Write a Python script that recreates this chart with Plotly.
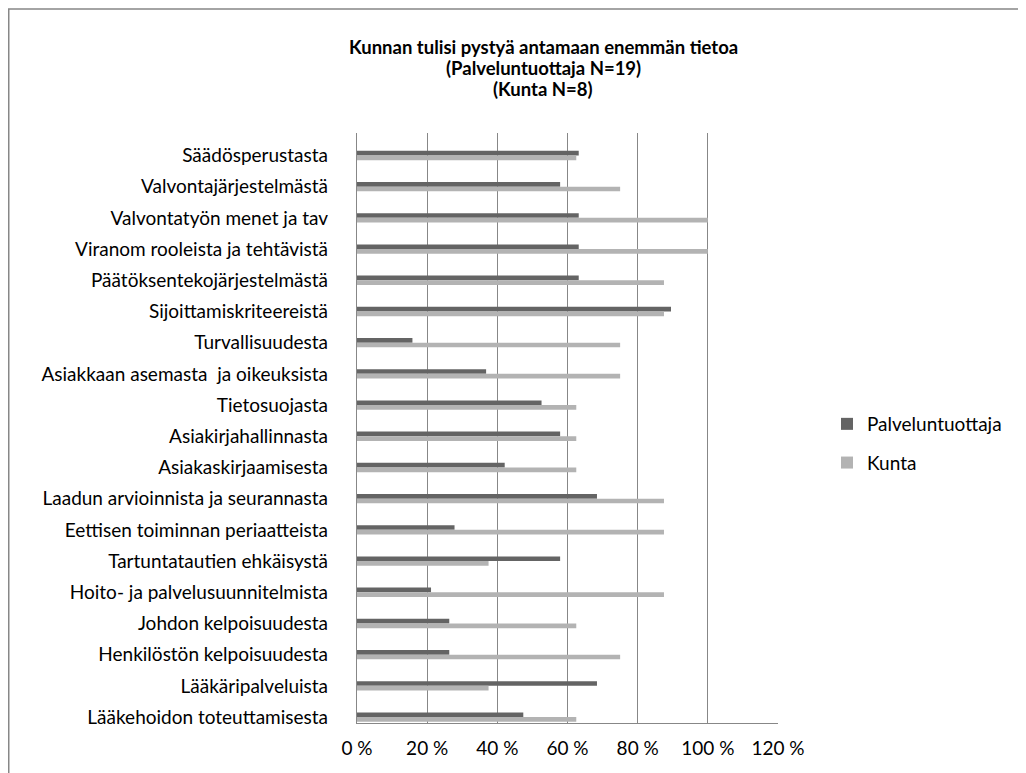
import plotly.graph_objects as go

categories = [
    "Säädösperustasta",
    "Valvontajärjestelmästä",
    "Valvontatyön menet ja tav",
    "Viranom rooleista ja tehtävistä",
    "Päätöksentekojärjestelmästä",
    "Sijoittamiskriteereistä",
    "Turvallisuudesta",
    "Asiakkaan asemasta  ja oikeuksista",
    "Tietosuojasta",
    "Asiakirjahallinnasta",
    "Asiakaskirjaamisesta",
    "Laadun arvioinnista ja seurannasta",
    "Eettisen toiminnan periaatteista",
    "Tartuntatautien ehkäisystä",
    "Hoito- ja palvelusuunnitelmista",
    "Johdon kelpoisuudesta",
    "Henkilöstön kelpoisuudesta",
    "Lääkäripalveluista",
    "Lääkehoidon toteuttamisesta",
]

palveluntuottaja = [63.2, 57.9, 63.2, 63.2, 63.2, 89.5, 15.8, 36.8, 52.6, 57.9,
                    42.1, 68.4, 27.8, 57.9, 21.1, 26.3, 26.3, 68.4, 47.4]
kunta = [62.5, 75.0, 100.0, 100.0, 87.5, 87.5, 75.0, 75.0, 62.5, 62.5,
         62.5, 87.5, 87.5, 37.5, 87.5, 62.5, 75.0, 37.5, 62.5]

x_ticks = [0, 20, 40, 60, 80, 100, 120]
x_ticktext = ["0 %", "20 %", "40 %", "60 %", "80 %", "100 %", "120 %"]

title_lines = ["Kunnan tulisi pystyä antamaan enemmän tietoa",
               "(Palveluntuottaja N=19)",
               "(Kunta N=8)"]

FONT = "Lato"
GRID = "#878787"
FS = 19

fig = go.Figure()
fig.add_trace(go.Bar(
    y=categories, x=palveluntuottaja, orientation="h", name="Palveluntuottaja",
    marker=dict(color="#646464", line=dict(width=0)), legendgroup="a",
))
fig.add_trace(go.Bar(
    y=categories, x=kunta, orientation="h", name="Kunta",
    marker=dict(color="#b3b3b3", line=dict(width=0)), legendgroup="b",
))

# page has an 8px body margin: figure coordinates = screen coordinates - 8
W, H = 1018, 765
L, R, T, B = 349, 770, 125, 715


def px(xp):
    return (xp - L) / (R - L)


def py(yp):
    return (B - yp) / (B - T)


title_y = [39, 60, 81]
annotations = [
    dict(text="<b>%s</b>" % line, xref="paper", yref="paper",
         x=px(535), y=py(yy), xanchor="center", yanchor="middle",
         showarrow=False, font=dict(family=FONT, size=18.5, color="#000000"))
    for line, yy in zip(title_lines, title_y)
]

fig.update_layout(
    width=W, height=H,
    margin=dict(l=L, r=W - R, t=T, b=H - B),
    paper_bgcolor="white", plot_bgcolor="white",
    barmode="group", bargap=0.70, bargroupgap=0,
    font=dict(family=FONT, size=FS, color="#000000"),
    annotations=annotations,
    showlegend=True,
    legend=dict(
        x=px(819), xanchor="left", y=py(397), yanchor="top",
        traceorder="grouped", tracegroupgap=11,
        font=dict(family=FONT, size=FS, color="#000000"),
        bgcolor="rgba(0,0,0,0)",
    ),
    xaxis=dict(
        range=[0, 120], tickvals=x_ticks, ticktext=x_ticktext,
        showgrid=True, gridcolor=GRID, gridwidth=1.3,
        showline=True, linecolor=GRID, linewidth=1.3,
        zeroline=False, ticks="", ticklabelstandoff=8,
        tickfont=dict(family=FONT, size=FS, color="#000000"),
        fixedrange=True,
    ),
    yaxis=dict(
        type="category", categoryorder="array", categoryarray=categories,
        range=[18.19, -0.72],
        showgrid=False, showline=True, linecolor=GRID, linewidth=1.3,
        ticks="", ticklabelstandoff=24,
        tickfont=dict(family=FONT, size=FS, color="#000000"),
        fixedrange=True,
    ),
    shapes=[dict(
        type="rect", xref="paper", yref="paper",
        x0=px(0.75), x1=px(1040), y0=py(790), y1=py(1),
        line=dict(color="#878787", width=1.5), fillcolor="rgba(0,0,0,0)",
        layer="below",
    )],
)

fig.write_html("out.html")
